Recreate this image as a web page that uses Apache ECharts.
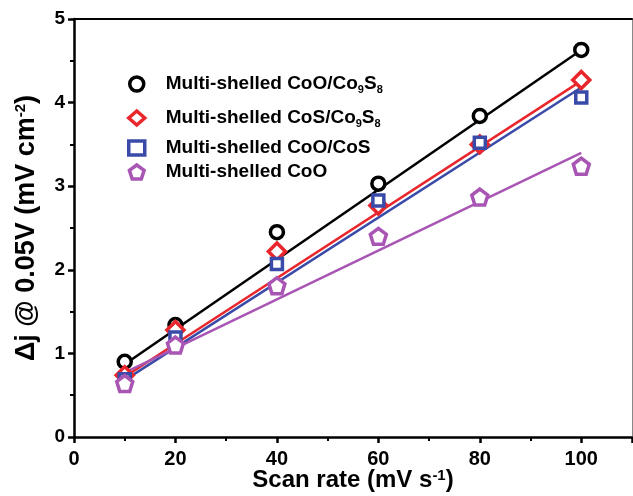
<!DOCTYPE html>
<html>
<head>
<meta charset="utf-8">
<script src="https://cdn.jsdelivr.net/npm/echarts@6/dist/echarts.min.js"></script>
<style>
  html, body { margin: 0; padding: 0; background: #fff; }
  #chart { width: 633px; height: 496px; }
</style>
</head>
<body>
<div id="chart"></div>
<script>
// scan rates (mV s-1)
var scanRates = [10, 20, 40, 60, 80, 100];

var coOCo9S8 = [0.90, 1.34, 2.45, 3.03, 3.84, 4.63];
var coSCo9S8 = [0.74, 1.28, 2.22, 2.77, 3.50, 4.27];
var coOCoS   = [0.69, 1.19, 2.07, 2.83, 3.52, 4.06];
var coO      = [0.64, 1.10, 1.81, 2.40, 2.87, 3.24];

// fitted line ends (at x = 10 and x = 100)
var fitX = [10, 100];
var fitCoOCo9S8 = [0.87, 4.63];
var fitCoSCo9S8 = [0.72, 4.26];
var fitCoOCoS   = [0.68, 4.18];
var fitCoO      = [0.77, 3.40];

var names = [
  'Multi-shelled CoO/Co9S8',
  'Multi-shelled CoS/Co9S8',
  'Multi-shelled CoO/CoS',
  'Multi-shelled CoO'
];
var colors = ['#000000', '#e8262b', '#3a4aa8', '#a855b4'];

var pentagon = 'path://M0,-1 L0.951,-0.309 L0.588,0.809 L-0.588,0.809 L-0.951,-0.309 Z';

function pairs(xs, ys) {
  return xs.map(function (x, i) { return [x, ys[i]]; });
}

var font = 'Arial, "Liberation Sans", sans-serif';

function pointSeries(name, ys, color, symbol, size) {
  return {
    name: name,
    type: 'scatter',
    data: pairs(scanRates, ys),
    symbol: symbol,
    symbolSize: size,
    z: 5,
    itemStyle: { color: '#fff', borderColor: color, borderWidth: 3.5, opacity: 1 }
  };
}
function fitSeries(ys, color) {
  return {
    type: 'line',
    data: pairs(fitX, ys),
    showSymbol: false,
    silent: true,
    z: 3,
    lineStyle: { color: color, width: 2.5 }
  };
}

var chart = echarts.init(document.getElementById('chart'));

var supStyle = { fontFamily: font, fontWeight: 'bold', fontSize: 15, color: '#000', verticalAlign: 'top', padding: [0, 0, 9, 0] };

// row heights in the legend differ (subscript rows are taller)
var legendRowHeights = [28, 32, 20, 20];

var option = {
  animation: false,
  backgroundColor: '#fff',
  grid: { left: 74, right: 1, top: 19, bottom: 59, outerBoundsMode: 'none' },
  legend: {
    orient: 'vertical',
    left: 122,
    top: 65,
    itemWidth: 16,
    itemHeight: 14,
    itemGap: 4,
    data: names.map(function (n, i) {
      return { name: n, textStyle: { lineHeight: legendRowHeights[i] } };
    }),
    itemStyle: { borderWidth: 3.5 },
    formatter: function (n) {
      return n.replace('Co9S8', 'Co{sub|9}S{sub|8}');
    },
    textStyle: {
      fontFamily: font, fontWeight: 'bold', fontSize: 19, color: '#000',
      padding: [0, 0, 0, 16],
      rich: {
        sub: { fontFamily: font, fontWeight: 'bold', fontSize: 11, color: '#000', verticalAlign: 'middle', padding: [11, 0, 0, 0] }
      }
    }
  },
  xAxis: [{
    type: 'value',
    min: 0, max: 110, interval: 20,
    name: 'Scan rate (mV s{sup|-1})',
    nameLocation: 'middle',
    nameGap: 31,
    nameMoveOverlap: false,
    nameTextStyle: {
      fontFamily: font, fontWeight: 'bold', fontSize: 24, color: '#000',
      rich: { sup: supStyle }
    },
    axisLine: { lineStyle: { color: '#000', width: 2.5 } },
    axisTick: { length: 6, lineStyle: { width: 2.5, color: '#000' } },
    minorTick: { show: true, splitNumber: 2, length: 4, lineStyle: { width: 2, color: '#000' } },
    axisLabel: {
      fontFamily: font, fontWeight: 'bold', fontSize: 20, color: '#000', margin: 12,
      formatter: function (v) { return v > 100 ? '' : v; }
    },
    splitLine: { show: false }
  }, {
    type: 'value', position: 'top', min: 0, max: 110,
    axisLine: { onZero: false, lineStyle: { color: '#000', width: 2 } },
    axisTick: { show: false }, axisLabel: { show: false }, splitLine: { show: false }
  }],
  yAxis: [{
    type: 'value',
    min: 0, max: 5, interval: 1,
    name: 'Δj @ 0.05V (mV cm{sup|-2})',
    nameLocation: 'middle',
    nameGap: 34,
    nameMoveOverlap: false,
    nameTextStyle: {
      fontFamily: font, fontWeight: 'bold', fontSize: 27, color: '#000',
      rich: { sup: supStyle }
    },
    axisLine: { lineStyle: { color: '#000', width: 2.5 } },
    axisTick: { length: 6, lineStyle: { width: 2.5, color: '#000' } },
    minorTick: { show: true, splitNumber: 2, length: 4, lineStyle: { width: 2, color: '#000' } },
    axisLabel: { fontFamily: font, fontWeight: 'bold', fontSize: 19, color: '#000', margin: 9 },
    splitLine: { show: false }
  }, {
    type: 'value', position: 'right', min: 0, max: 5,
    axisLine: { show: true, onZero: false, lineStyle: { color: '#888', width: 1 } },
    axisTick: { show: false }, axisLabel: { show: false }, splitLine: { show: false }
  }],
  series: [
    fitSeries(fitCoOCo9S8, colors[0]),
    fitSeries(fitCoSCo9S8, colors[1]),
    fitSeries(fitCoOCoS, colors[2]),
    fitSeries(fitCoO, colors[3]),
    pointSeries(names[0], coOCo9S8, colors[0], 'circle', 13),
    pointSeries(names[1], coSCo9S8, colors[1], 'diamond', 17),
    pointSeries(names[2], coOCoS, colors[2], 'rect', 11),
    pointSeries(names[3], coO, colors[3], pentagon, 16)
  ]
};
chart.setOption(option);
</script>
</body>
</html>
